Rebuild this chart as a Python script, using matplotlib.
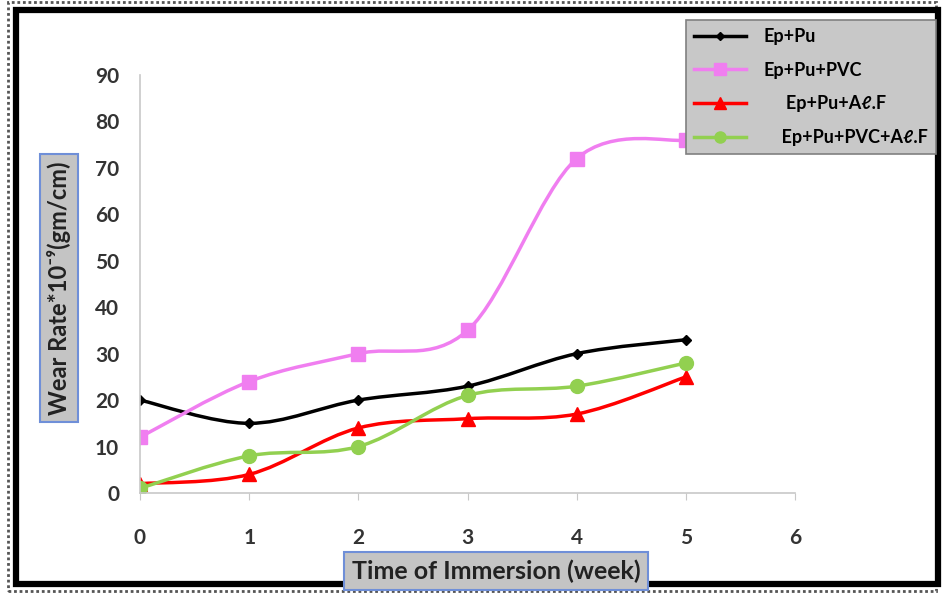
import numpy as np
import matplotlib.pyplot as plt
from matplotlib.path import Path
from matplotlib.patches import PathPatch, Rectangle
from matplotlib.lines import Line2D

# DATA
#===============================================================================
weeks = [0, 1, 2, 3, 4, 5]
ep_pu = [20, 15, 20, 23, 30, 33]
ep_pu_pvc = [12, 24, 30, 35, 72, 76]
ep_pu_alf = [2, 4, 14, 16, 17, 25]
ep_pu_pvc_alf = [1, 8, 10, 21, 23, 28]
labels = ['Ep+Pu', 'Ep+Pu+PVC', '     Ep+Pu+A\u2113.F', '    Ep+Pu+PVC+A\u2113.F']
x_ticks = [0, 1, 2, 3, 4, 5, 6]
y_ticks = [0, 10, 20, 30, 40, 50, 60, 70, 80, 90]
#===============================================================================

W, H = 943, 594
FONT = ['Lato', 'DejaVu Sans']
plt.rcParams['font.family'] = FONT


def fx(px):
  return px / W


def fy(py):
  return 1 - py / H


def smooth_path(xs, ys):
  # excel-style smoothed line: cubic bezier through the points
  pts = np.column_stack([xs, ys]).astype(float)
  verts = [pts[0]]
  codes = [Path.MOVETO]
  n = len(pts)
  for i in range(n - 1):
    p0 = pts[max(i - 1, 0)]
    p1 = pts[i]
    p2 = pts[i + 1]
    p3 = pts[min(i + 2, n - 1)]
    c1 = p1 + (p2 - p0) / 6.0
    c2 = p2 - (p3 - p1) / 6.0
    verts += [c1, c2, p2]
    codes += [Path.CURVE4] * 3
  return Path(verts, codes)


fig = plt.figure(figsize=(W / 100, H / 100), dpi=100)
ax = fig.add_axes([fx(140), fy(493), fx(795) - fx(140), fy(75) - fy(493)])

series = [
  (ep_pu, 'black', 'D', 5),
  (ep_pu_pvc, '#f07ef0', 's', 10),
  (ep_pu_alf, '#ff0000', '^', 10),
  (ep_pu_pvc_alf, '#92d050', 'o', 10),
]
handles = []
for vals, col, mk, ms in series:
  ax.add_patch(PathPatch(smooth_path(weeks, vals), fill=False, edgecolor=col, lw=2.5))
  ax.plot(weeks, vals, ls='none', marker=mk, ms=ms, color=col)
  handles.append(Line2D([], [], color=col, lw=2.5, marker=mk, ms=ms * 0.8))

ax.set_xlim(0, 6)
ax.set_ylim(0, 90)
ax.set_xticks(x_ticks)
ax.set_yticks(y_ticks)
for s in ['top', 'right']:
  ax.spines[s].set_visible(False)
for s in ['left', 'bottom']:
  ax.spines[s].set_color('#c8c8c8')
  ax.spines[s].set_linewidth(1.2)
ax.tick_params(axis='y', length=0, pad=15)
ax.tick_params(axis='x', length=5, color='#c8c8c8', pad=20)
for lab in ax.get_xticklabels() + ax.get_yticklabels():
  lab.set_fontweight('bold')
  lab.set_fontsize(15)
  lab.set_color('#333333')

# axis titles in boxes
fig.text(fx(59), fy(288), 'Wear Rate*10\u207b\u2079(gm/cm)', rotation=90, ha='center', va='center',
         fontsize=17, fontweight='bold', color='#222222',
         bbox=dict(boxstyle='square,pad=0.3', facecolor='#c4c4c4', edgecolor='#6f8fd8', lw=1.5))
fig.text(fx(496), fy(571), 'Time of Immersion (week)', ha='center', va='center',
         fontsize=18, fontweight='bold', color='#222222',
         bbox=dict(boxstyle='square,pad=0.3', facecolor='#c4c4c4', edgecolor='#6f8fd8', lw=1.5))

leg = fig.legend(handles, labels, loc='upper left', bbox_to_anchor=(fx(686), fy(20)),
                 frameon=True, fancybox=False, facecolor='#c8c8c8', edgecolor='#808080',
                 framealpha=1, prop={'weight': 'bold', 'size': 13, 'family': FONT},
                 handlelength=2.9, handletextpad=0.95, labelspacing=0.92, borderpad=0.45,
                 borderaxespad=0)
leg.get_frame().set_linewidth(1.2)

# frames round the picture
fig.add_artist(Rectangle((fx(8), fy(591)), fx(936) - fx(8), fy(2) - fy(591), fill=False,
                         ec='#555555', lw=2, ls=(0, (1, 1)), transform=fig.transFigure))
fig.add_artist(Rectangle((fx(16), fy(584)), fx(938) - fx(16), fy(10) - fy(584), fill=False,
                         ec='black', lw=4.5, transform=fig.transFigure))

plt.savefig('out.png', dpi=100)
